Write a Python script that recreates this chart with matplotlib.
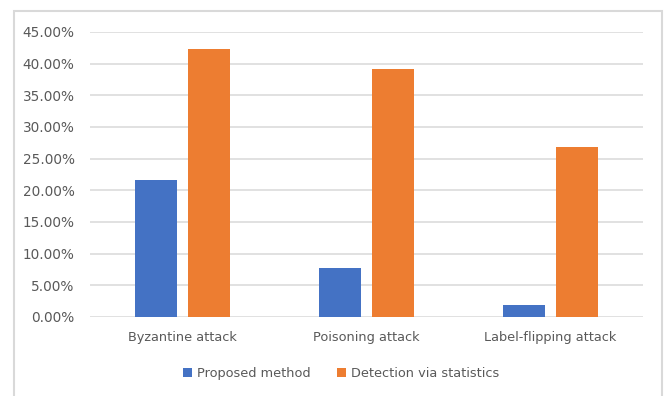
import matplotlib.pyplot as plt
import numpy as np
from matplotlib.patches import Rectangle
from matplotlib.ticker import PercentFormatter

# attack types and detection error rates
attacks = ["Byzantine attack", "Poisoning attack", "Label-flipping attack"]
proposed = [0.217, 0.078, 0.019]
statistics = [0.423, 0.391, 0.269]

blue = "#4472C4"
orange = "#ED7D31"
grey_text = "#595959"

fig = plt.figure(figsize=(6.64, 3.96), dpi=100)
ax = fig.add_axes([0.1355, 0.1995, 0.8325, 0.7197])

# outer frame around the chart area
fig.patches.append(Rectangle((14 / 664, -0.05), 648 / 664, 1.05 - 11 / 396,
                             transform=fig.transFigure, fill=False,
                             edgecolor="#d9d9d9", linewidth=1.5))

x = np.arange(len(attacks))
w = 0.228
off = 0.144
b1 = ax.bar(x - off, proposed, w, color=blue, label="Proposed method", zorder=3)
b2 = ax.bar(x + off, statistics, w, color=orange, label="Detection via statistics", zorder=3)

ax.set_xlim(-0.5, 2.5)
ax.set_ylim(0, 0.45)
ax.set_yticks(np.arange(0, 0.451, 0.05))
ax.yaxis.set_major_formatter(PercentFormatter(1.0, decimals=2))
ax.grid(axis="y", color="#d9d9d9", linewidth=1.1, zorder=0)
ax.set_xticks(x)
ax.set_xticklabels(attacks)

for s in ax.spines.values():
    s.set_visible(False)
ax.tick_params(axis="y", length=0, labelsize=9.8, labelcolor=grey_text, pad=11)
ax.tick_params(axis="x", length=0, labelsize=9.3, labelcolor=grey_text, pad=10)

fig.legend(handles=[b1, b2], loc="center", bbox_to_anchor=(0.514, 0.056),
           ncol=2, frameon=False, fontsize=9.3, labelcolor=grey_text,
           handlelength=0.7, handleheight=0.7, handletextpad=0.4,
           columnspacing=2.0)

plt.savefig("out.png", dpi=100)
